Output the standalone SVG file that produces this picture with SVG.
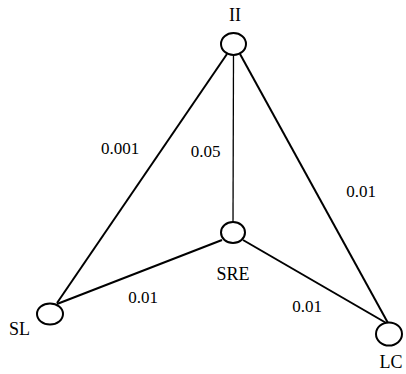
<svg xmlns="http://www.w3.org/2000/svg" width="406" height="374" viewBox="0 0 406 374">
<style>
.n{fill:#fff;stroke:#000;stroke-width:2}
.e{stroke:#000;stroke-width:2;fill:none}
.t{font-family:"Liberation Serif","Times New Roman",serif;font-size:18px;fill:#000;text-anchor:middle}
.w{font-family:"Liberation Serif","Times New Roman",serif;font-size:17px;fill:#000;text-anchor:middle}
</style>
<rect width="406" height="374" fill="#fff"/>
<g id="edges">
<line class="e" x1="227" y1="54" x2="57" y2="303"/>
<line class="e" x1="233.5" y1="55" x2="233" y2="222" style="stroke-width:1.3"/>
<line class="e" x1="240" y1="54" x2="388" y2="323"/>
<line class="e" x1="222" y1="240" x2="57" y2="304"/>
<line class="e" x1="243" y1="240" x2="388" y2="324"/>
<text class="w" x="120" y="154">0.001</text>
<text class="w" x="205.5" y="157">0.05</text>
<text class="w" x="361" y="197">0.01</text>
<text class="w" x="143" y="303">0.01</text>
<text class="w" x="307" y="312">0.01</text>
</g>
<g id="II"><ellipse class="n" cx="233.5" cy="44" rx="12.5" ry="11"/><text class="t" x="235" y="21">II</text></g>
<g id="SRE"><ellipse class="n" cx="233" cy="232.5" rx="12" ry="10.5"/><text class="t" x="233" y="280">SRE</text></g>
<g id="SL"><ellipse class="n" cx="50" cy="314" rx="13" ry="10.5"/><text class="t" x="19.5" y="335">SL</text></g>
<g id="LC"><ellipse class="n" cx="389" cy="334" rx="13" ry="11.5"/><text class="t" x="391" y="368">LC</text></g>
</svg>
